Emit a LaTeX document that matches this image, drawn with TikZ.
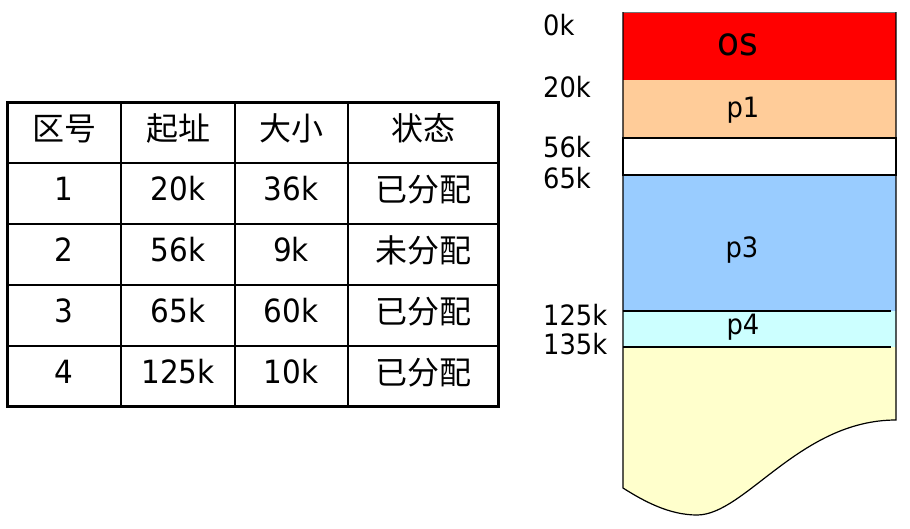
\documentclass[tikz,border=0pt]{standalone}
\usepackage{fontspec}
\setmainfont{DejaVu Sans}[FakeStretch=0.92]
\newfontfamily\cjk{Noto Sans CJK SC}
\definecolor{osred}{HTML}{FF0000}
\definecolor{pone}{HTML}{FFCC99}
\definecolor{pthree}{HTML}{99CCFF}
\definecolor{pfour}{HTML}{CCFFFF}
\definecolor{freeyel}{HTML}{FFFFCC}
\begin{document}
\begin{tikzpicture}[x=1pt,y=-1pt,
  cell/.style={anchor=base,inner sep=0pt,font=\fontsize{32}{36}\selectfont},
  cjkcell/.style={anchor=base,inner sep=0pt,font=\fontsize{32}{36}\selectfont\cjk},
  addr/.style={anchor=base west,inner sep=0pt,font=\fontsize{28}{32}\selectfont},
  plabel/.style={anchor=base,inner sep=0pt,font=\fontsize{28}{32}\selectfont},
  thinline/.style={line width=1.3pt,black},
  thickline/.style={line width=3pt,black}]
\useasboundingbox (0,0) rectangle (910,528);
% ---- table ----
\foreach \y in {163,224,285,346} \draw[thinline] (7,\y) -- (498,\y);
\foreach \x in {121,235,348} \draw[thinline] (\x,102) -- (\x,406);
\draw[thickline] (7,102) rectangle (498,406);
% header
\node[cjkcell] (h1) at (64,140) {区号};
\node[cjkcell] (h2) at (178,140) {起址};
\node[cjkcell] (h3) at (291,140) {大小};
\node[cjkcell] (h4) at (423,140) {状态};
% rows
\node[cell] (a1) at (64,200) {1};
\node[cell] (b1) at (178,200) {20k};
\node[cell] (c1) at (291,200) {36k};
\node[cjkcell] (d1) at (423,201) {已分配};
\node[cell] (a2) at (64,261) {2};
\node[cell] (b2) at (178,261) {56k};
\node[cell] (c2) at (291,261) {9k};
\node[cjkcell] (d2) at (423,262) {未分配};
\node[cell] (a3) at (64,322) {3};
\node[cell] (b3) at (178,322) {65k};
\node[cell] (c3) at (291,322) {60k};
\node[cjkcell] (d3) at (423,323) {已分配};
\node[cell] (a4) at (64,383) {4};
\node[cell] (b4) at (178,383) {125k};
\node[cell] (c4) at (291,383) {10k};
\node[cjkcell] (d4) at (423,384) {已分配};
% ---- memory ----
\fill[osred] (623,12) rectangle (896,80);
\fill[pone] (623,80) rectangle (896,138);
\fill[white] (623,138) rectangle (896,175);
\fill[pthree] (623,175) rectangle (896,311);
\fill[pfour] (623,311) rectangle (896,347);
\fill[freeyel] (623,347) -- (896,347) -- (896,420)
  .. controls (800,420) and (745,515) .. (697,515)
  .. controls (670,515) and (645,502) .. (623,488) -- cycle;
\draw[line width=0.8pt,black!55] (623,12) -- (896,12);
\draw[line width=1.2pt,black] (623,138) rectangle (896,175);
\draw[line width=1.2pt,black] (623,311) -- (891,311);
\draw[line width=1.2pt,black] (623,347) -- (891,347);
\draw[line width=1.2pt,black] (623,12) -- (623,488)
  .. controls (645,502) and (670,515) .. (697,515)
  .. controls (745,515) and (800,420) .. (896,420) -- (896,12);
% labels inside
\node[plabel,font=\fontsize{39}{44}\selectfont] (os) at (738,55) {os};
\node[plabel] (p1) at (743,117) {p1};
\node[plabel] (p3) at (742,257) {p3};
\node[plabel] (p4) at (743,334) {p4};
% addresses
\node[addr] (k0) at (543,35) {0k};
\node[addr] (k20) at (543,97) {20k};
\node[addr] (k56) at (543,157) {56k};
\node[addr] (k65) at (543,188) {65k};
\node[addr] (k125) at (543,325) {125k};
\node[addr] (k135) at (543,354) {135k};
\end{tikzpicture}
\end{document}
